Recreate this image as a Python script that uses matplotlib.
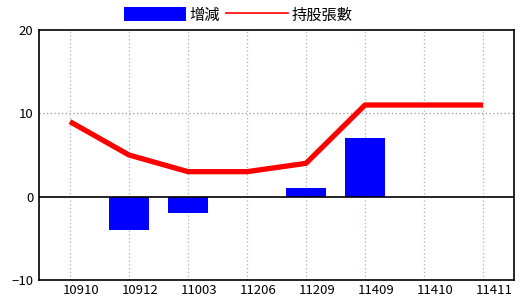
import matplotlib
matplotlib.use("Agg")
import matplotlib.pyplot as plt
from matplotlib.patches import Patch
from matplotlib.lines import Line2D

plt.rcParams['font.family'] = ['Noto Sans CJK TC', 'DejaVu Sans']

categories = ['10910', '10912', '11003', '11206', '11209', '11409', '11410', '11411']
change = [0, -4, -2, 0, 1, 7, 0, 0]
holdings = [9, 5, 3, 3, 4, 11, 11, 11]

fig = plt.figure(figsize=(5.2, 3.0), dpi=100)
ax = fig.add_axes([39/520, 1 - 280/300, (514-39)/520, 250/300])

x = list(range(len(categories)))
ax.bar(x, change, width=0.67, color='#0000ff', zorder=2)
ax.plot(x, holdings, color='#ff0000', linewidth=3.8, zorder=3, solid_capstyle='butt')
ax.axhline(0, color='black', linewidth=1.2, zorder=2.5)

ax.set_xlim(-0.525, 7.525)
ax.set_ylim(-10, 20)
ax.set_yticks([-10, 0, 10, 20])
ax.set_xticks([])
for xi, lab in zip(x, categories):
    ax.annotate(lab, xy=(xi + 0.5, 0), xycoords=('data', 'axes fraction'),
                xytext=(0, -3), textcoords='offset points',
                ha='right', va='top', fontsize=9.5)
ax.tick_params(axis='both', length=0, labelsize=9.5, pad=4)
for v in x:
    ax.axvline(v, color='#9fb6c8', linestyle=(0, (1, 2)), linewidth=0.9, zorder=1)
ax.axhline(10, color='#999999', linestyle=(0, (1, 2)), linewidth=0.9, zorder=1)
for s in ax.spines.values():
    s.set_linewidth(1.2)

handles = [Patch(facecolor='#0000ff', edgecolor='none'),
           Line2D([], [], color='#ff0000', linewidth=1.2)]
fig.legend(handles, ['增減', '持股張數'], loc='center', bbox_to_anchor=(238/520, 1 - 15/300),
           ncol=2, frameon=False, fontsize=11, handlelength=4.1, handleheight=1.0,
           handletextpad=0.2, columnspacing=0.4, borderpad=0)

fig.savefig('out.png', dpi=100)
